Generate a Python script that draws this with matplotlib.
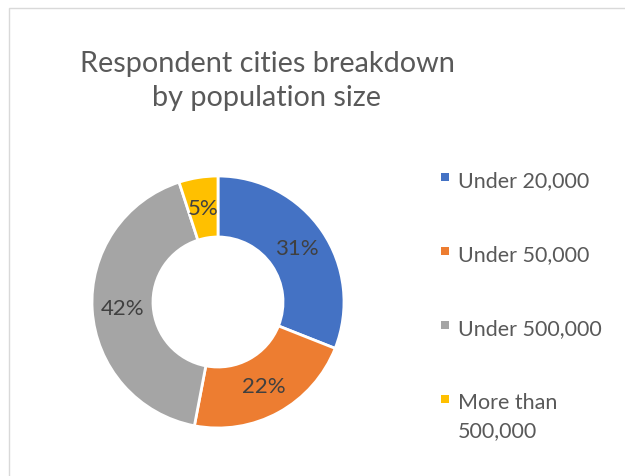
import matplotlib
matplotlib.use("Agg")
from matplotlib import pyplot as plt
from matplotlib.patches import Rectangle

plt.rcParams['font.family'] = ['Lato', 'DejaVu Sans']

labels = ["Under 20,000", "Under 50,000", "Under 500,000", "More than\n500,000"]
shares = [31, 22, 42, 5]
colors = ["#4472C4", "#ED7D31", "#A5A5A5", "#FFC000"]
title_lines = ["Respondent cities breakdown", "by population size"]

W, H = 625, 477
fig = plt.figure(figsize=(W / 100, H / 100), dpi=100)

# light chart border (top and left visible)
fig.add_artist(Rectangle((9 / W, -0.1), 1.2, (H - 9) / H + 0.1, transform=fig.transFigure,
                         fill=False, edgecolor="#D9D9D9", linewidth=1))

for i, line in enumerate(title_lines):
    fig.text(267 / W, (H - 72 - 34 * i) / H, line, ha="center", va="baseline",
             fontsize=20.8, color="#595959")

# donut
cx, cy, r = 218, 303, 126
ax = fig.add_axes([(cx - r) / W, (H - cy - r) / H, 2 * r / W, 2 * r / H])
wedges, _, autotexts = ax.pie(shares, colors=colors, startangle=90, counterclock=False,
                              radius=1, autopct="%1.0f%%", pctdistance=0.758,
                              wedgeprops=dict(width=0.484, edgecolor="white", linewidth=2))
for t in autotexts:
    t.set_fontsize(16)
    t.set_color("#404040")
ax.set_xlim(-1, 1)
ax.set_ylim(-1, 1)
ax.set_aspect("equal")
ax.axis("off")

# legend
baselines = [187, 261, 335, 409]
for lab, col, yb in zip(labels, colors, baselines):
    fig.add_artist(Rectangle((441 / W, (H - yb + 5) / H), 8 / W, 8 / H, transform=fig.transFigure,
                             facecolor=col, edgecolor="none"))
    for j, part in enumerate(lab.split("\n")):
        fig.text(458 / W, (H - yb - 28 * j) / H, part, ha="left", va="baseline", fontsize=15.5,
                 color="#595959")

fig.savefig("out.png", dpi=100)
